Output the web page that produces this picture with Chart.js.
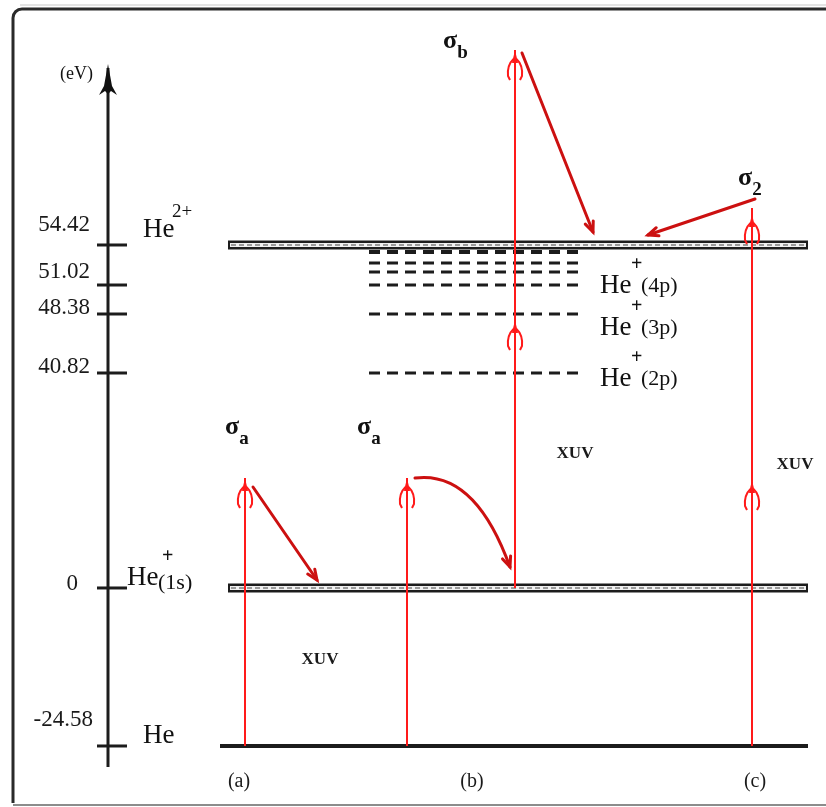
<!DOCTYPE html>
<html><head><meta charset="utf-8">
<script src="https://cdn.jsdelivr.net/npm/chart.js@4"></script>
<style>html,body{margin:0;padding:0;background:#fff}canvas{display:block}</style>
</head><body>
<canvas id="c" width="826" height="807"></canvas>
<script>
// ================= DATA =================
// Axis tick labels (eV) and the schematic height at which each is drawn (diagram is not to scale)
const tickLabels  = ['-24.58', '0', '40.82', '48.38', '51.02', '54.42'];
const tickHeights = [-25.07, 0, 34.11, 43.47, 48.07, 54.42];

// Main levels: He ground, He+(1s), He2+
const mainLevelNames   = ['He', 'He+(1s)', 'He2+'];
const mainLevelHeights = [-25.07, 0, 54.42];
const mainLevelStartX  = [220, 228, 228];
const mainLevelEndX    = [808, 808, 808];

// He+ excited (Rydberg) levels, dashed
const rydbergHeights = [34.11, 43.47, 48.07, 50.13, 51.56, 53.31];
const rydbergNames   = ['(2p)', '(3p)', '(4p)'];
const rydbergStartX  = 369;
const rydbergEndX    = 579;

// XUV photon absorption arrows (vertical, red)
const photonX      = [245, 407, 515, 752];
const photonFrom   = [-25.07, -25.07, 0, -25.07];
const photonTo     = [17.45, 17.45, 85.36, 60.29];
const photonHeads  = [[17.45], [17.45], [42.52, 85.36], [17.13, 59.34]];

// Emission / cross-section transitions (sigma), dark red
const sigmaNames  = ['a', 'a', 'b', '2'];
const sigmaFromX  = [253, 415, 522, 755];
const sigmaFromY  = [16.02, 17.45, 84.88, 61.72];
const sigmaToX    = [317, 510, 593, 648];
const sigmaToY    = [1.27, 3.33, 56.48, 56.0];
const sigmaCtrlX  = [null, 475, null, null];
const sigmaCtrlY  = [null, 18.72, null, null];

// Axis
const axisX = 108, axisBottom = -28.4, axisTop = 82.5;

// Pathway labels
const pathwayLabels = ['(a)', '(b)', '(c)'];

// ================= LAYOUT (text placement, diagram units) =================
const annotations = [
  {t:'XUV', x:575, y:21.26, size:17, bold:true},
  {t:'XUV', x:795, y:19.51, size:17, bold:true},
  {t:'XUV', x:320, y:-11.42, size:17, bold:true},
  {t:pathwayLabels[0], x:239, y:-30.7, size:20},
  {t:pathwayLabels[1], x:472, y:-30.7, size:20},
  {t:pathwayLabels[2], x:755, y:-30.7, size:20}
];
const sigmaLabelPos = [[225, 25.54], [357, 25.54], [443, 86.8], [738, 65.0]];

// ================= CHART =================
function seg(x1, y1, x2, y2, color, width, dash, order) {
  return { data: [{x:x1, y:y1}, {x:x2, y:y2}], showLine: true, borderColor: color,
           borderWidth: width, borderDash: dash || [], pointRadius: 0, fill: false,
           order: order, borderCapStyle: 'butt' };
}
const datasets = [];
// main levels
mainLevelHeights.forEach((h, i) => {
  if (i === 0) {
    datasets.push(seg(mainLevelStartX[i], h, mainLevelEndX[i], h, '#1c1c1c', 4, [], 20));
  } else {
    datasets.push(seg(mainLevelStartX[i], h, mainLevelEndX[i], h, '#1c1c1c', 9, [], 22));
    datasets.push(seg(mainLevelStartX[i] + 2, h, mainLevelEndX[i] - 2, h, '#f0f0f0', 4, [], 21));
    datasets.push(seg(mainLevelStartX[i] + 3, h, mainLevelEndX[i] - 3, h, '#9a9a9a', 2, [5, 3], 20));
  }
});
// rydberg dashed levels
rydbergHeights.forEach((h, i) => {
  datasets.push(seg(rydbergStartX, h, rydbergEndX, h, '#1c1c1c', i === rydbergHeights.length - 1 ? 4 : 3, [11, 7], 15));
});
// axis and ticks
datasets.push(seg(axisX, axisBottom, axisX, axisTop, '#1c1c1c', 3, [], 10));
tickHeights.forEach(h => datasets.push(seg(axisX - 11, h, axisX + 19, h, '#1c1c1c', 3, [], 10)));
// photon arrows
photonX.forEach((x, i) => datasets.push(seg(x, photonFrom[i], x, photonTo[i], '#ff1a1a', 2, [], 1)));

const deco = {
  id: 'deco',
  beforeDraw(chart) {
    const ctx = chart.ctx;
    ctx.save();
    ctx.fillStyle = '#fff';
    ctx.fillRect(0, 0, chart.width, chart.height);
    ctx.strokeStyle = '#c8c8c8'; ctx.lineWidth = 1;
    ctx.beginPath(); ctx.moveTo(20, 5); ctx.lineTo(826, 5); ctx.stroke();
    ctx.strokeStyle = '#2a2a2a'; ctx.lineWidth = 3;
    ctx.beginPath(); ctx.moveTo(13, 803); ctx.lineTo(13, 19); ctx.arcTo(13, 9, 23, 9, 9); ctx.lineTo(826, 9); ctx.stroke();
    ctx.strokeStyle = '#8c8c8c'; ctx.lineWidth = 2;
    ctx.beginPath(); ctx.moveTo(13, 805); ctx.lineTo(826, 805); ctx.stroke();
    ctx.restore();
  },
  afterDatasetsDraw(chart) {
    const ctx = chart.ctx, xs = chart.scales.x, ys = chart.scales.y;
    const px = v => xs.getPixelForValue(v), py = v => ys.getPixelForValue(v);
    const FONT = '"Liberation Serif", "DejaVu Serif", serif';
    function txt(s, x, y, size, align, base, color, weight) {
      ctx.font = (weight ? weight + ' ' : '') + size + 'px ' + FONT;
      ctx.textAlign = align || 'left'; ctx.textBaseline = base || 'alphabetic';
      ctx.fillStyle = color || '#111'; ctx.fillText(s, x, y);
    }
    ctx.save();

    // photon arrowheads (red)
    ctx.strokeStyle = '#ff1a1a'; ctx.fillStyle = '#ff1a1a'; ctx.lineWidth = 2;
    photonX.forEach((x, i) => {
      photonHeads[i].forEach(h => {
        const X = px(x), T = py(h);
        ctx.beginPath(); ctx.moveTo(X, T); ctx.lineTo(X - 3, T + 13); ctx.lineTo(X + 3, T + 13); ctx.closePath(); ctx.fill();
        ctx.beginPath();
        ctx.moveTo(X - 1.5, T + 9); ctx.quadraticCurveTo(X - 8, T + 15, X - 7, T + 26); ctx.lineTo(X - 5, T + 30);
        ctx.moveTo(X + 1.5, T + 9); ctx.quadraticCurveTo(X + 8, T + 15, X + 7, T + 26); ctx.lineTo(X + 5, T + 30);
        ctx.stroke();
      });
    });

    // sigma transitions (dark red, thick)
    ctx.strokeStyle = '#cc1010'; ctx.fillStyle = '#cc1010'; ctx.lineWidth = 3; ctx.lineCap = 'round';
    sigmaFromX.forEach((x, i) => {
      const x1 = px(x), y1 = py(sigmaFromY[i]), x2 = px(sigmaToX[i]), y2 = py(sigmaToY[i]);
      let ax, ay;
      ctx.beginPath(); ctx.moveTo(x1, y1);
      if (sigmaCtrlX[i] !== null) {
        const cx = px(sigmaCtrlX[i]), cy = py(sigmaCtrlY[i]);
        ctx.quadraticCurveTo(cx, cy, x2, y2); ax = cx; ay = cy;
      } else { ctx.lineTo(x2, y2); ax = x1; ay = y1; }
      ctx.stroke();
      const ang = Math.atan2(y2 - ay, x2 - ax), L = 11, w = 0.4;
      ctx.beginPath();
      ctx.moveTo(x2 - L * Math.cos(ang - w), y2 - L * Math.sin(ang - w));
      ctx.lineTo(x2, y2);
      ctx.lineTo(x2 - L * Math.cos(ang + w), y2 - L * Math.sin(ang + w));
      ctx.stroke();
    });

    // axis arrowhead (black)
    {
      const X = px(axisX), T = py(axisTop) - 4;
      ctx.fillStyle = '#111';
      ctx.beginPath();
      ctx.moveTo(X, T); ctx.lineTo(X - 4, T + 22); ctx.lineTo(X - 9, T + 31); ctx.lineTo(X - 3, T + 27);
      ctx.lineTo(X, T + 30); ctx.lineTo(X + 3, T + 27); ctx.lineTo(X + 9, T + 31); ctx.lineTo(X + 4, T + 22);
      ctx.closePath(); ctx.fill();
    }
    txt('(eV)', px(axisX) - 15, py(axisTop) + 6, 18, 'right', 'middle');

    // tick labels
    const tickDx = [-15, -30, -18, -18, -18, -18];
    const tickDy = [-26, -4, -6, -6, -13, -20];
    tickLabels.forEach((s, i) => txt(s, px(axisX) + tickDx[i], py(tickHeights[i]) + tickDy[i], 23, 'right', 'middle', '#1a1a1a'));

    // main level labels
    const g = py(mainLevelHeights[0]), s1 = py(mainLevelHeights[1]), s2 = py(mainLevelHeights[2]);
    txt('He', 143, g - 3, 27);
    txt('He', 127, s1 - 3, 27);
    txt('+', 162, s1 - 26, 20, 'left', 'alphabetic', '#111', 'bold');
    txt('(1s)', 158, s1 + 1, 22);
    txt('He', 143, s2 - 8, 27);
    txt('2+', 172, s2 - 28, 19);

    // rydberg labels: (2p)->level 0, (3p)->level 1, (4p)->level 2
    const rDy = [13, 21, 8];
    rydbergNames.forEach((n, i) => {
      const b = py(rydbergHeights[i]) + rDy[i];
      txt('He', 600, b, 27);
      txt('+', 631, b - 23, 20, 'left', 'alphabetic', '#111', 'bold');
      txt(n, 641, b - 1, 22);
    });

    // sigma labels
    sigmaNames.forEach((n, i) => {
      const [lx, ly] = sigmaLabelPos[i];
      const X = px(lx), Yp = py(ly);
      ctx.font = 'bold 26px ' + FONT;
      const w = ctx.measureText('σ').width;
      txt('σ', X, Yp, 26, 'left', 'middle', '#111', 'bold');
      txt(n, X + w, Yp + 12, 19, 'left', 'middle', '#111', 'bold');
    });

    // annotations
    annotations.forEach(a => txt(a.t, px(a.x), py(a.y), a.size, 'center', 'middle', '#1a1a1a', a.bold ? 'bold' : ''));
    ctx.restore();
  }
};

new Chart(document.getElementById('c'), {
  type: 'scatter',
  data: { datasets: datasets },
  options: {
    responsive: false, animation: false, maintainAspectRatio: false,
    layout: { padding: 0 },
    events: [],
    plugins: { legend: { display: false }, tooltip: { enabled: false } },
    scales: {
      x: { type: 'linear', min: 0, max: 826, display: false },
      y: { type: 'linear', min: -34.75, max: 93.29, display: false }
    }
  },
  plugins: [deco]
});
</script>
</body></html>
